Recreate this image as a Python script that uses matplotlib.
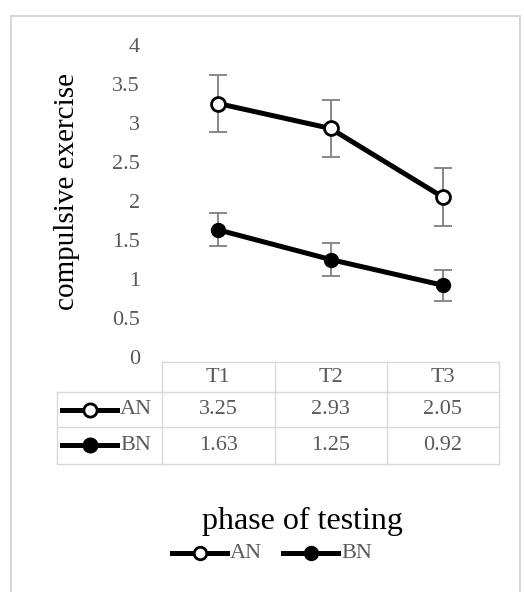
import matplotlib.pyplot as plt
import numpy as np
from matplotlib.lines import Line2D
from matplotlib.patches import Rectangle
from matplotlib.transforms import blended_transform_factory

plt.rcParams['font.family'] = ['Liberation Serif', 'DejaVu Serif']

# data
phases = ['T1', 'T2', 'T3']
an_mean = [3.25, 2.93, 2.05]
an_err = [0.36, 0.36, 0.37]
bn_mean = [1.63, 1.25, 0.92]
bn_err = [0.21, 0.21, 0.20]
groups = ['AN', 'BN']

W, H = 524, 592
fig = plt.figure(figsize=(W / 100, H / 100), dpi=100)

def fx(x):
    return x / W

def fy(y):
    return 1 - y / H

gray = '#595959'
grid = '#d9d9d9'
tf = fig.transFigure

# outer frame
fig.add_artist(Rectangle((fx(11), fy(600)), fx(509), fy(16) - fy(600),
                         transform=tf, fill=False,
                         edgecolor='#d0d0d0', linewidth=1.2))

ax = fig.add_axes([fx(162), fy(357), fx(499) - fx(162), fy(45) - fy(357)])
x = np.arange(1, len(phases) + 1)

ax.errorbar(x, an_mean, yerr=an_err, fmt='none', ecolor='#7f7f7f',
            elinewidth=1.3, capsize=6.5, capthick=1.3, zorder=1)
ax.errorbar(x, bn_mean, yerr=bn_err, fmt='none', ecolor='#7f7f7f',
            elinewidth=1.3, capsize=6.5, capthick=1.3, zorder=1)
ax.plot(x, an_mean, color='black', lw=3.6, marker='o', ms=10,
        mfc='white', mec='black', mew=2, zorder=3)
ax.plot(x, bn_mean, color='black', lw=3.6, marker='o', ms=10,
        mfc='black', mec='black', zorder=3)

ax.set_xlim(0.5, 3.5)
ax.set_ylim(0, 4)
ax.set_yticks([0, 0.5, 1, 1.5, 2, 2.5, 3, 3.5, 4])
ax.set_yticklabels(['0', '0.5', '1', '1.5', '2', '2.5', '3', '3.5', '4'])
ax.tick_params(axis='y', length=0, labelsize=16, labelcolor=gray, pad=16)
ax.set_xticks([])
for s in ax.spines.values():
    s.set_visible(False)

fig.text(fx(67), fy(192), 'compulsive exercise', rotation=90,
         ha='center', va='center', fontsize=21)

# data table under the plot
tr = blended_transform_factory(ax.transData, tf)
row_y = [377, 410, 445]
for xi, p in zip(x, phases):
    fig.text(xi, fy(row_y[0]), p, transform=tr, ha='center', va='center',
             fontsize=16, color=gray)
for xi, a, b in zip(x, an_mean, bn_mean):
    fig.text(xi, fy(row_y[1]), f'{a:.2f}', transform=tr, ha='center',
             va='center', fontsize=16, color=gray)
    fig.text(xi, fy(row_y[2]), f'{b:.2f}', transform=tr, ha='center',
             va='center', fontsize=16, color=gray)

def hline(y, x0, x1):
    fig.add_artist(Line2D([fx(x0), fx(x1)], [fy(y), fy(y)], transform=tf,
                          color=grid, lw=1))

def vline(xp, y0, y1):
    fig.add_artist(Line2D([fx(xp), fx(xp)], [fy(y0), fy(y1)], transform=tf,
                          color=grid, lw=1))

hline(362, 162, 499)
hline(392, 57, 499)
hline(427, 57, 499)
hline(464, 57, 499)
for xp in [162, 275, 387, 499]:
    vline(xp, 362, 464)
vline(57, 392, 464)

def key(x0, yk, face, name, ms):
    fig.add_artist(Line2D([fx(x0), fx(x0 + 55)], [fy(yk), fy(yk)],
                          transform=tf, color='black', lw=3.6))
    fig.add_artist(Line2D([fx(x0 + 27.5)], [fy(yk)], transform=tf,
                          marker='o', ms=ms, mfc=face, mec='black', mew=2,
                          ls='none'))
    fig.text(fx(x0 + 58), fy(yk), name, ha='left', va='center',
             fontsize=16, color=gray)

# legend keys inside the table
key(62, 410, 'white', groups[0], 9.5)
key(62, 445, 'black', groups[1], 9.5)

fig.text(fx(302), fy(521), 'phase of testing', ha='center', va='center',
         fontsize=23)

# legend below
key(172, 553, 'white', groups[0], 9)
key(283, 553, 'black', groups[1], 9)

fig.savefig('out.png', dpi=100)
